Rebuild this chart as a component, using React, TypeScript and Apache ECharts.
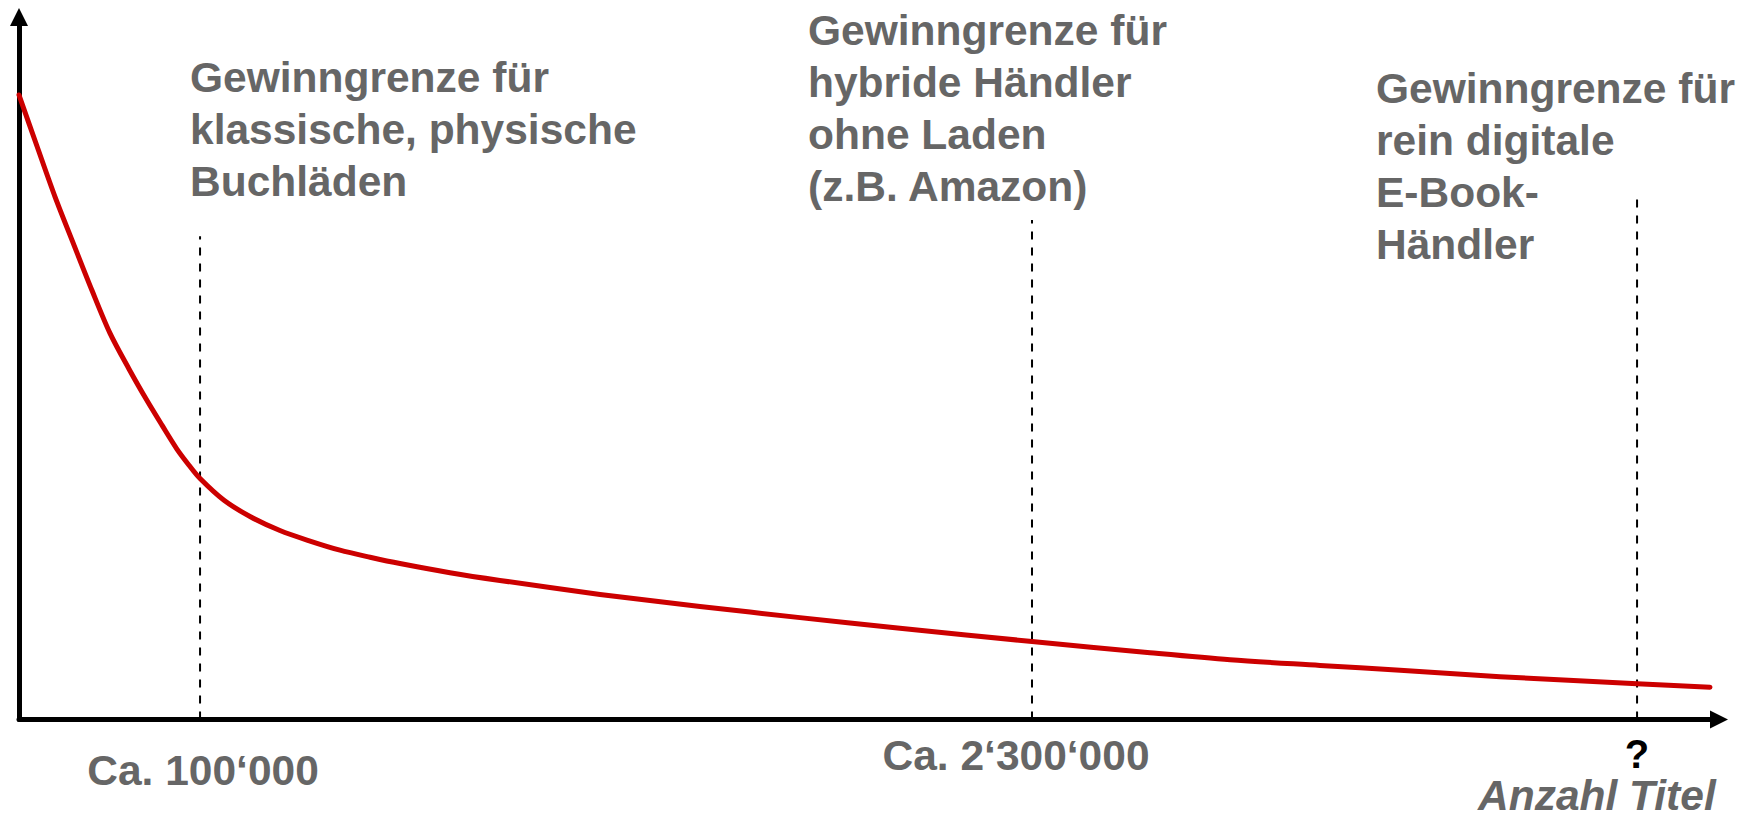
import React, { useEffect, useRef } from "react";
import * as echarts from "echarts";

// Curve (arbitrary units: x = number of titles, y = profit threshold level)
const curveX = [0, 10.6, 21.2, 32.4, 42.9, 53.5, 64.7, 75.3, 84.1, 92.9, 100, 106.5, 120.6, 135.9, 153.5, 171.2, 188.8, 206.5, 224.1, 253.5, 282.9, 341.8, 400.6, 459.4, 518.2, 595.9, 665.3, 712.4, 765.3, 812.4, 871.2, 951.8, 994.7];
const curveY = [88.9, 81.6, 74.4, 67.5, 61.1, 55.0, 49.9, 45.4, 41.9, 38.5, 36.2, 34.3, 31.2, 28.9, 26.9, 25.4, 24.1, 23.1, 22.2, 20.9, 19.8, 17.8, 16.1, 14.5, 13.0, 11.1, 9.5, 8.5, 7.7, 7.0, 6.1, 5.1, 4.6];

// Threshold markers (x position, top of dashed line)
const markerX = [106.5, 595.9, 951.8];
const markerTop = [68.8, 71.1, 74.9];

const markerTexts = [
  "Gewinngrenze für\nklassische, physische\nBuchläden",
  "Gewinngrenze für\nhybride Händler\nohne Laden\n(z.B. Amazon)",
  "Gewinngrenze für\nrein digitale\nE-Book-\nHändler",
];
const tickLabels = ["Ca. 100‘000", "Ca. 2‘300‘000", "?"];
const xAxisTitle = "Anzahl Titel";

export default function App() {
  const ref = useRef<HTMLDivElement>(null);
  useEffect(() => {
    if (!ref.current) return;
    const chart = echarts.init(ref.current, undefined, { renderer: "svg" });
    const font = "'Liberation Sans', Arial, sans-serif";
    const gray = "#666666";
    const annPos = [
      [190, 51.5],
      [808, 4.5],
      [1376, 62.5],
    ];
    const tickPos: [number, number, string, number, number][] = [
      [203, 744.5, gray, 42.5, 52],
      [1016, 729.5, gray, 42.5, 52],
      [1637, 734, "#000000", 40, 40],
    ];
    const graphic: any[] = [];
    markerTexts.forEach((t, i) => {
      graphic.push({
        type: "text",
        x: annPos[i][0],
        y: annPos[i][1],
        style: {
          text: t,
          fill: gray,
          font: `bold 42.5px ${font}`,
          lineHeight: 52,
          textAlign: "left",
          textVerticalAlign: "top",
        },
      });
    });
    tickLabels.forEach((t, i) => {
      graphic.push({
        type: "text",
        x: tickPos[i][0],
        y: tickPos[i][1],
        style: {
          text: t,
          fill: tickPos[i][2],
          font: `bold ${tickPos[i][3]}px ${font}`,
          lineHeight: tickPos[i][4],
          textAlign: "center",
          textVerticalAlign: "top",
        },
      });
    });
    graphic.push({
      type: "text",
      x: 1478,
      y: 775.2,
      style: {
        text: xAxisTitle,
        fill: gray,
        font: `italic bold 42.5px ${font}`,
        lineHeight: 40,
        textAlign: "left",
        textVerticalAlign: "top",
      },
    });

    const series: any[] = [
      {
        type: "line",
        data: curveX.map((x, i) => [x, curveY[i]]),
        smooth: 0.3,
        showSymbol: false,
        symbol: "none",
        lineStyle: { color: "#cc0000", width: 5, cap: "round", join: "round" },
        z: 5,
      },
    ];
    markerX.forEach((x, i) => {
      series.push({
        type: "line",
        data: [
          [x, 0],
          [x, markerTop[i]],
        ],
        symbol: "none",
        showSymbol: false,
        lineStyle: { color: "#000000", width: 2, type: [8, 8] },
        z: 3,
      });
    });

    chart.setOption({
      animation: false,
      backgroundColor: "#ffffff",
      grid: { left: 19, right: 34, top: 17, bottom: 99.5 },
      xAxis: {
        type: "value",
        min: 0,
        max: 1000,
        axisLine: {
          show: true,
          symbol: ["none", "triangle"],
          symbolSize: [18, 18],
          lineStyle: { color: "#000000", width: 5 },
        },
        axisTick: { show: false },
        axisLabel: { show: false },
        splitLine: { show: false },
      },
      yAxis: {
        type: "value",
        min: 0,
        max: 100,
        axisLine: {
          show: true,
          symbol: ["none", "triangle"],
          symbolSize: [18, 18],
          lineStyle: { color: "#000000", width: 5 },
        },
        axisTick: { show: false },
        axisLabel: { show: false },
        splitLine: { show: false },
      },
      series,
      graphic,
    });
    return () => chart.dispose();
  }, []);
  return (
    <div
      ref={ref}
      style={{ position: "fixed", left: 0, top: 0, width: 1753, height: 819, background: "#fff" }}
    />
  );
}
